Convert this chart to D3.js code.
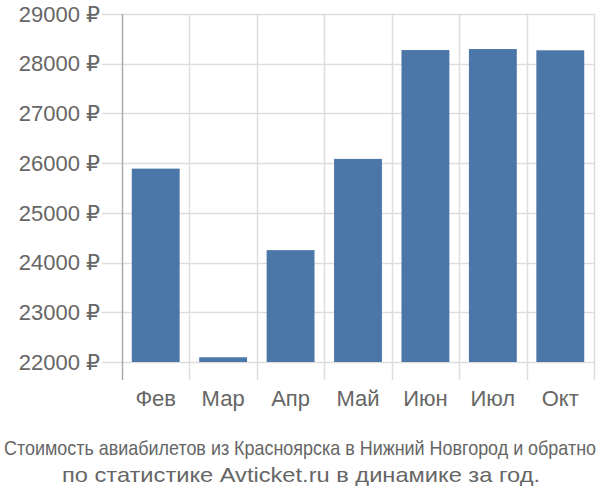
<!DOCTYPE html>
<html><head><meta charset="utf-8">
<script src="https://cdn.jsdelivr.net/npm/d3@7"></script>
<style>body{margin:0;background:#fff}svg{display:block}</style>
</head><body>
<script>
const categories = ["Фев","Мар","Апр","Май","Июн","Июл","Окт"];
const values = [25890, 22095, 24250, 26085, 28275, 28295, 28270];
const yTicks = [22000,23000,24000,25000,26000,27000,28000,29000];
const titleLines = ["Стоимость авиабилетов из Красноярска в Нижний Новгород и обратно","по статистике Avticket.ru в динамике за год."];

const W=600,H=500;
const svg=d3.select("body").append("svg").attr("width",W).attr("height",H);
const x=d3.scaleBand().domain(categories).range([122,594]).paddingInner(0.29).paddingOuter(0.145);
const y=d3.scaleLinear().domain([22000,29000]).range([362,14]);
const font="'Liberation Sans', Arial, 'DejaVu Sans', sans-serif";

// horizontal grid
svg.append("g").selectAll("line").data(yTicks).join("line")
 .attr("x1",102).attr("x2",594).attr("y1",d=>Math.round(y(d))+0.5).attr("y2",d=>Math.round(y(d))+0.5)
 .attr("stroke","#dddddd").attr("stroke-width",1.5);
// vertical grid
const bounds=categories.map(c=>x(c)-x.step()*x.paddingInner()/2).concat([594]);
svg.append("g").selectAll("line").data(bounds.slice(1)).join("line")
 .attr("x1",d=>Math.round(d)+0.5).attr("x2",d=>Math.round(d)+0.5).attr("y1",14).attr("y2",380)
 .attr("stroke","#dddddd").attr("stroke-width",1.5);
// bars
svg.append("g").selectAll("rect").data(values).join("rect")
 .attr("x",(d,i)=>x(categories[i])).attr("width",x.bandwidth())
 .attr("y",d=>y(d)).attr("height",d=>y(22000)-y(d)).attr("fill","#4a76a8");
// y axis line
svg.append("line").attr("x1",122.5).attr("x2",122.5).attr("y1",14).attr("y2",380).attr("stroke","#aaaaaa").attr("stroke-width",1.5);
// y labels
svg.append("g").selectAll("text").data(yTicks).join("text")
 .attr("x",100).attr("y",d=>y(d)).attr("dy","0.35em").attr("text-anchor","end")
 .attr("font-family",font).attr("font-size",22).attr("fill","#666")
 .text(d=>d+" ₽");
// x labels
svg.append("g").selectAll("text").data(categories).join("text")
 .attr("x",d=>x(d)+x.bandwidth()/2).attr("y",406).attr("text-anchor","middle")
 .attr("font-family",font).attr("font-size",22).attr("fill","#666").text(d=>d);
// title
const sx=0.82;
svg.append("text").attr("transform",`translate(300,455) scale(${sx},1)`).attr("x",0).attr("y",0).attr("text-anchor","middle")
 .attr("font-family",font).attr("font-size",21).attr("fill","#666")
 .attr("textLength",592/sx).attr("lengthAdjust","spacingAndGlyphs").text(titleLines[0]);
svg.append("text").attr("x",301).attr("y",482).attr("text-anchor","middle")
 .attr("font-family",font).attr("font-size",21).attr("fill","#666")
 .attr("textLength",478).attr("lengthAdjust","spacingAndGlyphs").text(titleLines[1]);
</script>
</body></html>
